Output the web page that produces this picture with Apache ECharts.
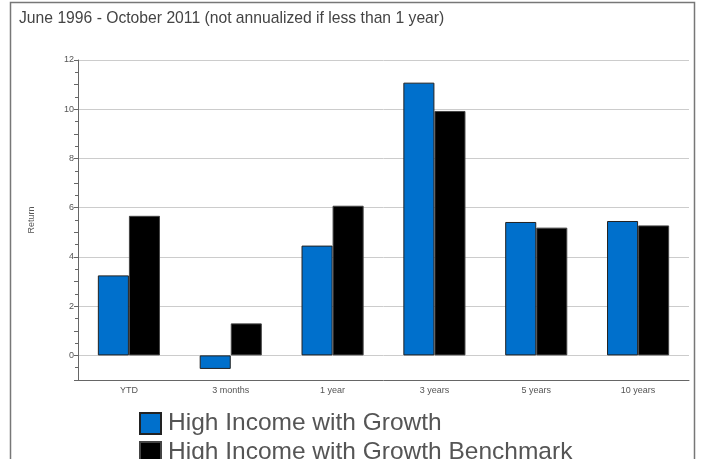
<!DOCTYPE html>
<html>
<head>
<meta charset="utf-8">
<script src="https://cdn.jsdelivr.net/npm/echarts@6/dist/echarts.min.js"></script>
<style>
  html, body { margin: 0; padding: 0; background: #fff; }
  #chart { width: 706px; height: 459px; }
</style>
</head>
<body>
<div id="chart"></div>
<script>
// data
const periods = ['YTD', '3 months', '1 year', '3 years', '5 years', '10 years']
const fundReturns = [3.25, -0.55, 4.46, 11.08, 5.42, 5.46]
const benchmarkReturns = [5.67, 1.3, 6.08, 9.93, 5.19, 5.28]
const seriesNames = ['High Income with Growth', 'High Income with Growth Benchmark']
const titleText = 'June 1996 - October 2011 (not annualized if less than 1 year)'

const font = 'Liberation Sans, Arial, sans-serif'
let chart = echarts.init(document.getElementById('chart'))

// one legend per row so the vertical list doesn't wrap into columns
const legendRow = (name, top) => ({
  orient: 'horizontal',
  left: 134,
  top: top,
  itemWidth: 21,
  itemHeight: 21,
  icon: 'rect',
  textStyle: { fontSize: 24.5, color: '#555', fontFamily: font, padding: [0, 0, 0, 2] },
  data: [name]
})

chart.setOption({
  animation: false,
  textStyle: { fontFamily: font },
  title: {
    text: titleText,
    left: 14,
    top: 6,
    textStyle: { fontSize: 15.7, fontWeight: 'normal', color: '#444', fontFamily: font }
  },
  graphic: [
    {
      type: 'rect',
      shape: { x: 10.5, y: 2.5, width: 684, height: 470 },
      style: { fill: 'none', stroke: '#777', lineWidth: 1.5 },
      silent: true
    }
  ],
  legend: [
    legendRow(seriesNames[0], 406),
    legendRow(seriesNames[1], 435)
  ],
  grid: {
    left: 78,
    right: 17,
    top: 60,
    bottom: 79
  },
  xAxis: {
    type: 'category',
    data: periods,
    axisLine: { onZero: false, lineStyle: { color: '#666', width: 1 } },
    axisTick: { alignWithLabel: true, length: 5, lineStyle: { color: '#666' } },
    axisLabel: { fontSize: 9, color: '#555', margin: 6 }
  },
  yAxis: {
    type: 'value',
    name: 'Return',
    nameLocation: 'middle',
    nameGap: 42,
    nameTextStyle: { fontSize: 9, color: '#555' },
    min: -1,
    max: 12,
    interval: 1,
    axisLine: { show: true, lineStyle: { color: '#666', width: 1 } },
    axisTick: { show: true, length: 4, lineStyle: { color: '#666' } },
    minorTick: { show: true, splitNumber: 2, length: 3, lineStyle: { color: '#666' } },
    axisLabel: {
      fontSize: 9,
      color: '#555',
      margin: 4,
      formatter: v => (v >= 0 && v % 2 === 0 ? String(v) : '')
    },
    splitLine: {
      show: true,
      lineStyle: { color: ['rgba(0,0,0,0)', '#cccccc'], width: 1 }
    }
  },
  series: [
    {
      name: seriesNames[0],
      type: 'bar',
      data: fundReturns,
      barGap: '0%',
      barCategoryGap: '39%',
      itemStyle: { color: '#0070cc', borderColor: '#222', borderWidth: 1 }
    },
    {
      name: seriesNames[1],
      type: 'bar',
      data: benchmarkReturns,
      itemStyle: { color: '#000000', borderColor: '#444', borderWidth: 1 }
    }
  ]
})
</script>
</body>
</html>
